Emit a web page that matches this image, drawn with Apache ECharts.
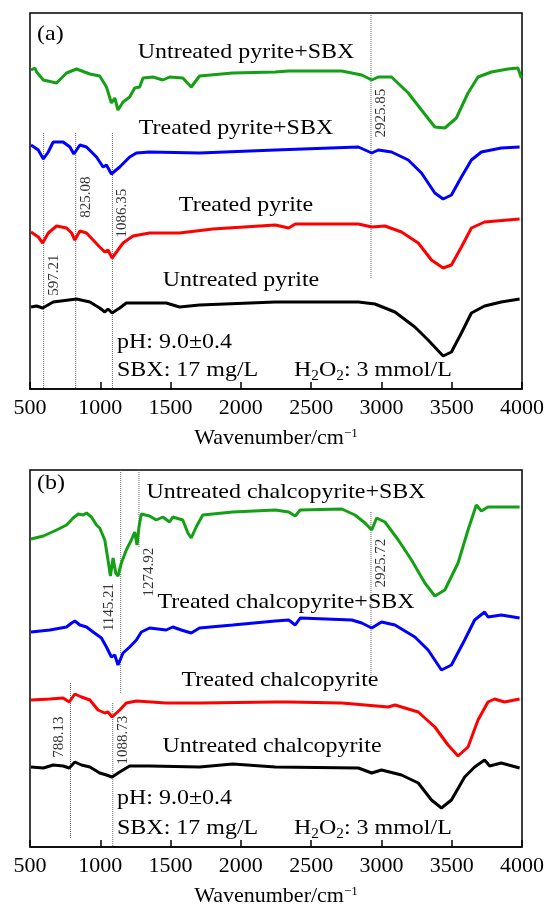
<!DOCTYPE html>
<html>
<head>
<meta charset="utf-8">
<script src="https://cdn.jsdelivr.net/npm/echarts@6/dist/echarts.min.js"></script>
<style>
  html, body { margin: 0; padding: 0; background: #fff; }
  #chart { width: 552px; height: 908px; }
</style>
</head>
<body>
<div id="chart"></div>
<script>
// [wavenumber (cm-1), relative transmittance (a.u., offset traces)]

// (a) pyrite
const pyriteSbxUntreated = [
  [507, 319], [535, 321], [547, 317], [595, 309], [689, 306], [760, 316], [831, 320], [926, 315],
  [996, 313], [1044, 302], [1079, 286], [1103, 291], [1126, 279], [1162, 287], [1209, 292], [1245, 301],
  [1280, 302], [1304, 311], [1375, 312], [1445, 309], [1493, 312], [1587, 311], [1647, 302], [1706, 313],
  [1942, 316], [2245, 317], [2340, 318], [2718, 318], [2860, 314], [2931, 309], [2978, 312], [3072, 312],
  [3191, 296], [3285, 279], [3380, 262], [3451, 261], [3533, 271], [3616, 296], [3687, 312], [3782, 317],
  [3900, 320], [3971, 321], [3995, 311]
];
const pyriteSbxTreated = [
  [507, 244], [559, 239], [595, 230], [630, 237], [665, 247], [736, 247], [784, 242], [812, 235],
  [855, 244], [902, 242], [973, 232], [1020, 222], [1044, 224], [1079, 215], [1138, 222], [1209, 232],
  [1257, 236], [1351, 237], [1706, 236], [2245, 239], [2836, 242], [2931, 236], [2978, 239], [3072, 237],
  [3191, 229], [3285, 216], [3380, 196], [3439, 190], [3498, 194], [3569, 212], [3640, 229], [3711, 237],
  [3852, 241], [3983, 242]
];
const pyriteTreated = [
  [507, 157], [559, 152], [590, 146], [630, 156], [689, 163], [760, 161], [796, 156], [819, 149],
  [855, 158], [902, 156], [996, 142], [1032, 137], [1055, 139], [1084, 131], [1162, 146], [1233, 153],
  [1351, 156], [1564, 156], [1800, 160], [2245, 164], [2340, 161], [2387, 165], [2836, 165], [2931, 162],
  [3025, 163], [3143, 157], [3262, 146], [3356, 129], [3439, 121], [3498, 124], [3569, 142], [3640, 161],
  [3734, 167], [3983, 170]
];
const pyriteUntreated = [
  [507, 82], [547, 83], [590, 81], [665, 87], [831, 90], [926, 87], [996, 81], [1032, 77],
  [1055, 80], [1084, 76], [1138, 81], [1185, 86], [1304, 86], [1469, 86], [1564, 82], [1706, 84],
  [2245, 87], [2836, 87], [2954, 85], [3096, 77], [3238, 62], [3332, 49], [3439, 33], [3498, 37],
  [3569, 56], [3640, 76], [3734, 83], [3852, 87], [3983, 90]
];

// (b) chalcopyrite
const chalcoSbxUntreated = [
  [507, 308], [595, 311], [689, 317], [760, 322], [807, 329], [843, 333], [878, 332], [902, 334],
  [937, 330], [973, 322], [996, 319], [1032, 307], [1055, 287], [1072, 271], [1091, 289], [1110, 274],
  [1126, 271], [1150, 284], [1185, 297], [1221, 307], [1245, 315], [1261, 302], [1275, 320], [1292, 333],
  [1351, 331], [1398, 327], [1445, 330], [1493, 325], [1516, 330], [1587, 327], [1623, 314], [1647, 309],
  [1682, 320], [1729, 332], [1942, 335], [2245, 337], [2340, 335], [2387, 331], [2422, 337], [2718, 338],
  [2812, 332], [2883, 324], [2931, 317], [2966, 329], [3025, 325], [3120, 307], [3214, 287], [3309, 264],
  [3380, 251], [3451, 257], [3545, 284], [3616, 317], [3675, 342], [3711, 336], [3758, 340], [3900, 340],
  [3983, 340]
];
const chalcoSbxTreated = [
  [507, 215], [642, 217], [760, 220], [796, 224], [819, 226], [855, 222], [902, 220], [949, 215],
  [1008, 209], [1044, 200], [1079, 190], [1103, 192], [1126, 182], [1162, 194], [1209, 200], [1257, 207],
  [1292, 215], [1351, 219], [1469, 217], [1516, 220], [1576, 217], [1647, 214], [1706, 219], [1942, 222],
  [2245, 226], [2340, 227], [2387, 222], [2422, 229], [2789, 227], [2860, 224], [2931, 219], [3001, 225],
  [3096, 222], [3238, 210], [3332, 197], [3427, 177], [3498, 182], [3592, 207], [3663, 227], [3734, 235],
  [3758, 230], [3852, 232], [3983, 229]
];
const chalcoTreated = [
  [507, 147], [642, 148], [736, 149], [779, 145], [819, 153], [866, 150], [926, 147], [984, 137],
  [1032, 134], [1055, 135], [1084, 130], [1138, 137], [1185, 144], [1257, 146], [1469, 144], [1706, 144],
  [2245, 145], [2340, 145], [2718, 144], [3049, 140], [3096, 142], [3262, 135], [3380, 120], [3474, 102],
  [3545, 91], [3616, 100], [3687, 127], [3758, 145], [3805, 148], [3876, 145], [3983, 148]
];
const chalcoUntreated = [
  [507, 80], [595, 79], [665, 82], [736, 81], [779, 79], [819, 85], [866, 82], [926, 80],
  [996, 74], [1044, 72], [1084, 70], [1138, 75], [1209, 81], [1351, 81], [1706, 80], [1942, 83],
  [2245, 80], [2836, 79], [2931, 74], [3001, 77], [3143, 72], [3262, 64], [3356, 47], [3427, 39],
  [3498, 47], [3592, 70], [3663, 80], [3734, 87], [3770, 81], [3852, 84], [3983, 79]
];

// marked peaks (cm-1)
const peaksA = [597.21, 825.08, 1086.35, 2925.85];
const peaksB = [788.13, 1088.73, 1145.21, 1274.92, 2925.72];

const FONT = 'Liberation Serif';
const GREEN = '#14a014';

// dotted guide extents and label placement for each peak (y in axis units)
const peakLayoutA = [
  { from: 256, to: 0, labelY: 114, dx: 10 },
  { from: 256, to: 0, labelY: 192, dx: 10 },
  { from: 256, to: 0, labelY: 176, dx: 10 },
  { from: 374, to: 111, labelY: 276, dx: 10 }
];
const peakLayoutB = [
  { from: 164, to: 9, labelY: 110, dx: -11 },
  { from: 144, to: 0, labelY: 107, dx: 10 },
  { from: 377, to: 154, labelY: 240, dx: -12 },
  { from: 377, to: 300, labelY: 275, dx: 10 },
  { from: 335, to: 170, labelY: 284, dx: 10 }
];

let chart = echarts.init(document.getElementById('chart'));

const traceSeries = (data, color, gi) => ({
  type: 'line',
  xAxisIndex: gi,
  yAxisIndex: gi,
  data: data,
  symbol: 'none',
  lineStyle: { color: color, width: 3 },
  silent: true,
  z: 3
});

const peakSeries = (peaks, layout, gi) => {
  let out = [];
  peaks.forEach((p, i) => {
    out.push({
      type: 'line',
      xAxisIndex: gi,
      yAxisIndex: gi,
      data: [[p, layout[i].from], [p, layout[i].to]],
      symbol: 'none',
      lineStyle: { color: '#666', width: 1, type: 'dotted' },
      silent: true,
      z: 1
    });
    // label is rotated, so its offset is given in the rotated frame
    out.push({
      type: 'scatter',
      xAxisIndex: gi,
      yAxisIndex: gi,
      data: [[p, layout[i].labelY]],
      symbolSize: 0,
      silent: true,
      label: {
        show: true,
        position: 'inside',
        rotate: 90,
        offset: [0, layout[i].dx],
        formatter: p.toFixed(2),
        fontFamily: FONT,
        fontSize: 15,
        color: '#000'
      },
      z: 2
    });
  });
  return out;
};

const xAxisOf = gi => ({
  gridIndex: gi,
  type: 'value',
  min: 500,
  max: 4000,
  interval: 500,
  axisLine: { show: true, onZero: false, lineStyle: { color: '#000', width: 1.5 } },
  axisTick: { show: true, inside: true, length: 7, lineStyle: { color: '#000', width: 1.5 } },
  splitLine: { show: false },
  axisLabel: { color: '#000', fontFamily: FONT, fontSize: 22, margin: 8, formatter: v => String(v) },
  name: '{t|Wavenumber/cm}{s|\u22121}',
  nameLocation: 'middle',
  nameGap: 38,
  nameTextStyle: {
    rich: {
      t: { fontFamily: FONT, fontSize: 22, color: '#000' },
      s: { fontFamily: FONT, fontSize: 13, color: '#000', verticalAlign: 'top', lineHeight: 13 }
    }
  }
});

const txt = (x, y, text, align) => ({
  type: 'text',
  x: x,
  y: y,
  scaleX: 1.09,
  silent: true,
  style: {
    text: text,
    font: '22px "' + FONT + '"',
    fill: '#000',
    align: align || 'center',
    textAlign: align || 'center',
    verticalAlign: 'middle',
    textVerticalAlign: 'middle'
  }
});

const h2o2 = (x, y) => ({
  type: 'text',
  x: x,
  y: y,
  scaleX: 1.09,
  silent: true,
  style: {
    text: '{n|H}{s|2}{n|O}{s|2}{n|: 3 mmol/L}',
    fill: '#000',
    align: 'left',
    textAlign: 'left',
    verticalAlign: 'middle',
    textVerticalAlign: 'middle',
    rich: {
      n: { fontFamily: FONT, fontSize: 22, lineHeight: 26, fill: '#000' },
      s: { fontFamily: FONT, fontSize: 14, lineHeight: 12, verticalAlign: 'bottom', fill: '#000' }
    }
  }
});

chart.setOption({
  animation: false,
  grid: [
    { left: 30, top: 13, width: 492, height: 376, show: true, borderColor: '#000', borderWidth: 1.5 },
    { left: 30, top: 470, width: 492, height: 377, show: true, borderColor: '#000', borderWidth: 1.5 }
  ],
  xAxis: [xAxisOf(0), xAxisOf(1)],
  yAxis: [
    { gridIndex: 0, type: 'value', min: 0, max: 376, show: false },
    { gridIndex: 1, type: 'value', min: 0, max: 377, show: false }
  ],
  graphic: [
    txt(37, 34, '(a)', 'left'),
    txt(246, 52, 'Untreated pyrite+SBX'),
    txt(236, 128, 'Treated pyrite+SBX'),
    txt(246, 205, 'Treated pyrite'),
    txt(241, 280, 'Untreated pyrite'),
    txt(117, 342, 'pH: 9.0\u00b10.4', 'left'),
    txt(117, 370, 'SBX: 17 mg/L', 'left'),
    h2o2(294, 370),
    txt(37, 483, '(b)', 'left'),
    txt(286, 492, 'Untreated chalcopyrite+SBX'),
    txt(286, 602, 'Treated chalcopyrite+SBX'),
    txt(280, 680, 'Treated chalcopyrite'),
    txt(272, 746, 'Untreated chalcopyrite'),
    txt(117, 798, 'pH: 9.0\u00b10.4', 'left'),
    txt(117, 828, 'SBX: 17 mg/L', 'left'),
    h2o2(294, 828)
  ],
  series: [
    ...peakSeries(peaksA, peakLayoutA, 0),
    ...peakSeries(peaksB, peakLayoutB, 1),
    traceSeries(pyriteSbxUntreated, GREEN, 0),
    traceSeries(pyriteSbxTreated, '#0000ff', 0),
    traceSeries(pyriteTreated, '#ff0000', 0),
    traceSeries(pyriteUntreated, '#000000', 0),
    traceSeries(chalcoSbxUntreated, GREEN, 1),
    traceSeries(chalcoSbxTreated, '#0000ff', 1),
    traceSeries(chalcoTreated, '#ff0000', 1),
    traceSeries(chalcoUntreated, '#000000', 1)
  ]
});
</script>
</body>
</html>
